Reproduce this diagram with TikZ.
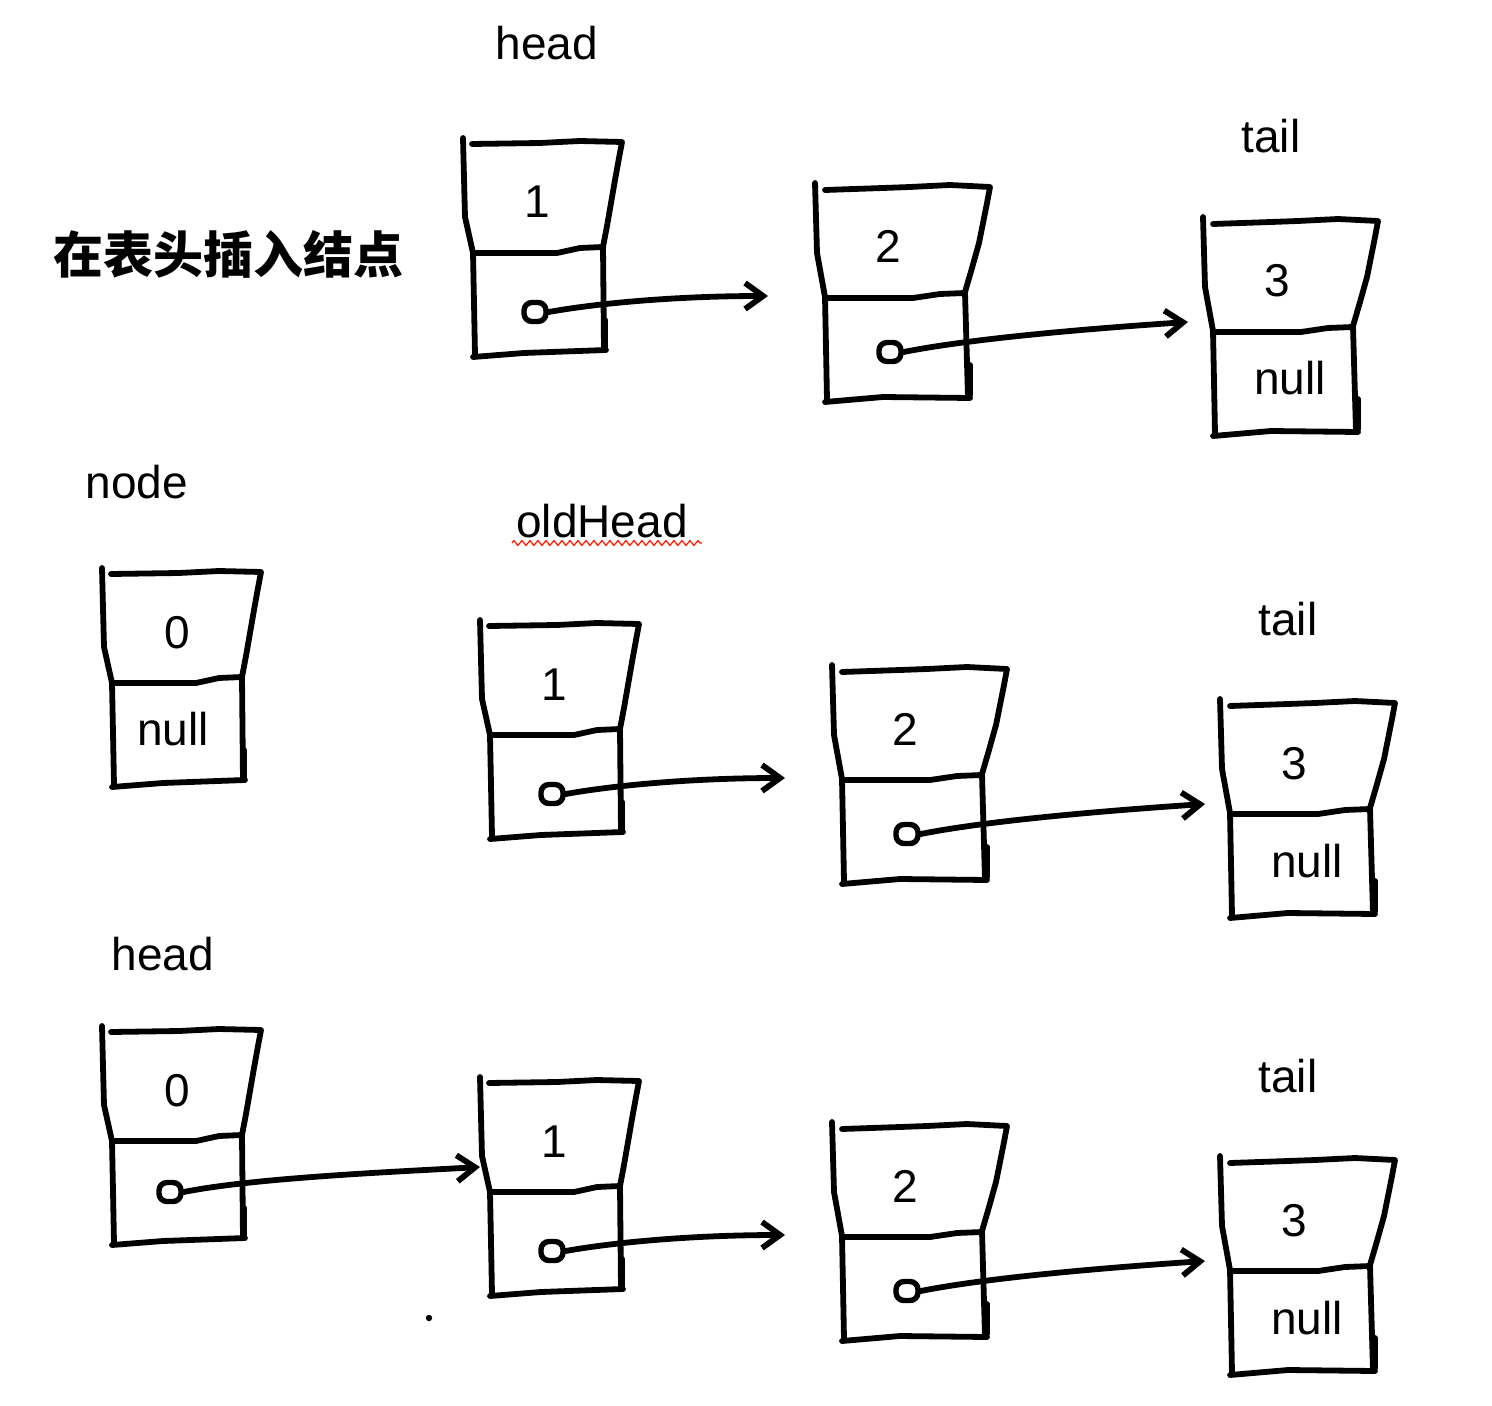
\documentclass[tikz,border=0pt]{standalone}
\usepackage{fontspec}
\setmainfont{Liberation Sans}
\newfontfamily\cjk{Noto Sans CJK SC}
\usetikzlibrary{arrows.meta,decorations.pathmorphing}
\begin{document}
\begin{tikzpicture}[x=0.5pt,y=-0.5pt,
  hand/.style={line width=2.9pt,line cap=round,line join=round},
  lbl/.style={anchor=base,inner sep=0pt,font=\fontsize{23}{28}\selectfont},
  ptr/.style={draw,line width=2.7pt,rounded corners=4pt,minimum width=11pt,minimum height=9.5pt,inner sep=0pt},
  link/.style={hand,-{Straight Barb[length=9pt,width=13pt,line width=2.9pt]}},
  boxA/.pic={
    \draw[hand] (0,0) -- (1,40) -- (2,79) -- (10,115) -- (11,165) -- (12,217);
    \draw[hand] (9,6) -- (77,5) -- (117,3) -- (159,4) -- (156,20) -- (152,42) -- (148,65) -- (144,88) -- (140,109);
    \draw[hand] (10,115) -- (94,115) -- (117,110) -- (140,109) -- (141,212);
    \draw[hand] (142,182) -- (142,212);
    \draw[hand] (10,219) -- (61,215) -- (143,212);
    \coordinate (-in) at (0,90);
  },
  boxB/.pic={
    \draw[hand] (0,0) -- (1,35) -- (2,70) -- (10,114) -- (11,165) -- (12,217);
    \draw[hand] (10,7) -- (68,5) -- (95,4) -- (135,2) -- (175,4) -- (172,20) -- (168,40) -- (164,60) -- (157,85) -- (150,109);
    \draw[hand] (12,115) -- (98,115) -- (125,111) -- (150,110) -- (153,215);
    \draw[hand] (155,182) -- (155,212);
    \draw[hand] (10,219) -- (68,214) -- (155,215);
  }
]
\useasboundingbox (0,0) rectangle (1492,1406);

% title
\node[inner sep=0pt] (title) at (228,254) {\cjk\bfseries\fontsize{25}{30}\selectfont 在表头插入结点};

% ---------- row 1 ----------
\node[lbl] (h1) at (547,60) {head};
\node[lbl] (t1) at (1271,153) {tail};
\pic (r1a) at (463,138) {boxA};
\pic (r1b) at (815,183) {boxB};
\pic (r1c) at (1203,217) {boxB};
\node[lbl] (v11) at (537,218) {1};
\node[lbl] (v12) at (888,263) {2};
\node[lbl] (v13) at (1277,297) {3};
\node[lbl] (n13) at (1290,395) {null};
\node[ptr] (p11) at (535,312) {};
\node[ptr] (p12) at (890,352) {};
\coordinate (e11) at (768,296);
\coordinate (e12) at (1188,322);
\draw[link] (p11.east) .. controls +(50,-9) and +(-90,0) .. (e11);
\draw[link] (p12.east) .. controls +(70,-14) and +(-90,6) .. (e12);

% ---------- row 2 ----------
\node[lbl] (nd) at (137,498) {node};
\node[lbl] (oh) at (602,537) {oldHead};
\draw[red!80!orange,line width=0.6pt,decorate,decoration={zigzag,segment length=4pt,amplitude=1.2pt}] (oh.base west) ++(-4,6) -- ++(190,0);
\node[lbl] (t2) at (1288,635) {tail};
\pic (r2z) at (102,568) {boxA};
\pic (r2a) at (480,620) {boxA};
\pic (r2b) at (832,665) {boxB};
\pic (r2c) at (1220,699) {boxB};
\node[lbl] (v20) at (177,648) {0};
\node[lbl] (n20) at (173,745) {null};
\node[lbl] (v21) at (554,700) {1};
\node[lbl] (v22) at (905,745) {2};
\node[lbl] (v23) at (1294,779) {3};
\node[lbl] (n23) at (1307,877) {null};
\node[ptr] (p21) at (552,794) {};
\node[ptr] (p22) at (907,834) {};
\coordinate (e21) at (785,778);
\coordinate (e22) at (1205,804);
\draw[link] (p21.east) .. controls +(50,-9) and +(-90,0) .. (e21);
\draw[link] (p22.east) .. controls +(70,-14) and +(-90,6) .. (e22);

% ---------- row 3 ----------
\node[lbl] (h3) at (163,970) {head};
\node[lbl] (t3) at (1288,1092) {tail};
\pic (r3z) at (102,1026) {boxA};
\pic (r3a) at (480,1077) {boxA};
\pic (r3b) at (832,1122) {boxB};
\pic (r3c) at (1220,1156) {boxB};
\node[lbl] (v30) at (177,1106) {0};
\node[lbl] (v31) at (554,1157) {1};
\node[lbl] (v32) at (905,1202) {2};
\node[lbl] (v33) at (1294,1236) {3};
\node[lbl] (n33) at (1307,1334) {null};
\node[ptr] (p30) at (170,1192) {};
\node[ptr] (p31) at (552,1251) {};
\node[ptr] (p32) at (907,1291) {};
\coordinate (e31) at (785,1235);
\coordinate (e32) at (1205,1261);
\draw[link] (p30.east) .. controls +(70,-14) and +(-90,5) .. (r3a-in);
\draw[link] (p31.east) .. controls +(50,-9) and +(-90,0) .. (e31);
\draw[link] (p32.east) .. controls +(70,-14) and +(-90,6) .. (e32);

% stray dot
\fill (429,1318) circle (1.6pt);
\end{tikzpicture}
\end{document}
